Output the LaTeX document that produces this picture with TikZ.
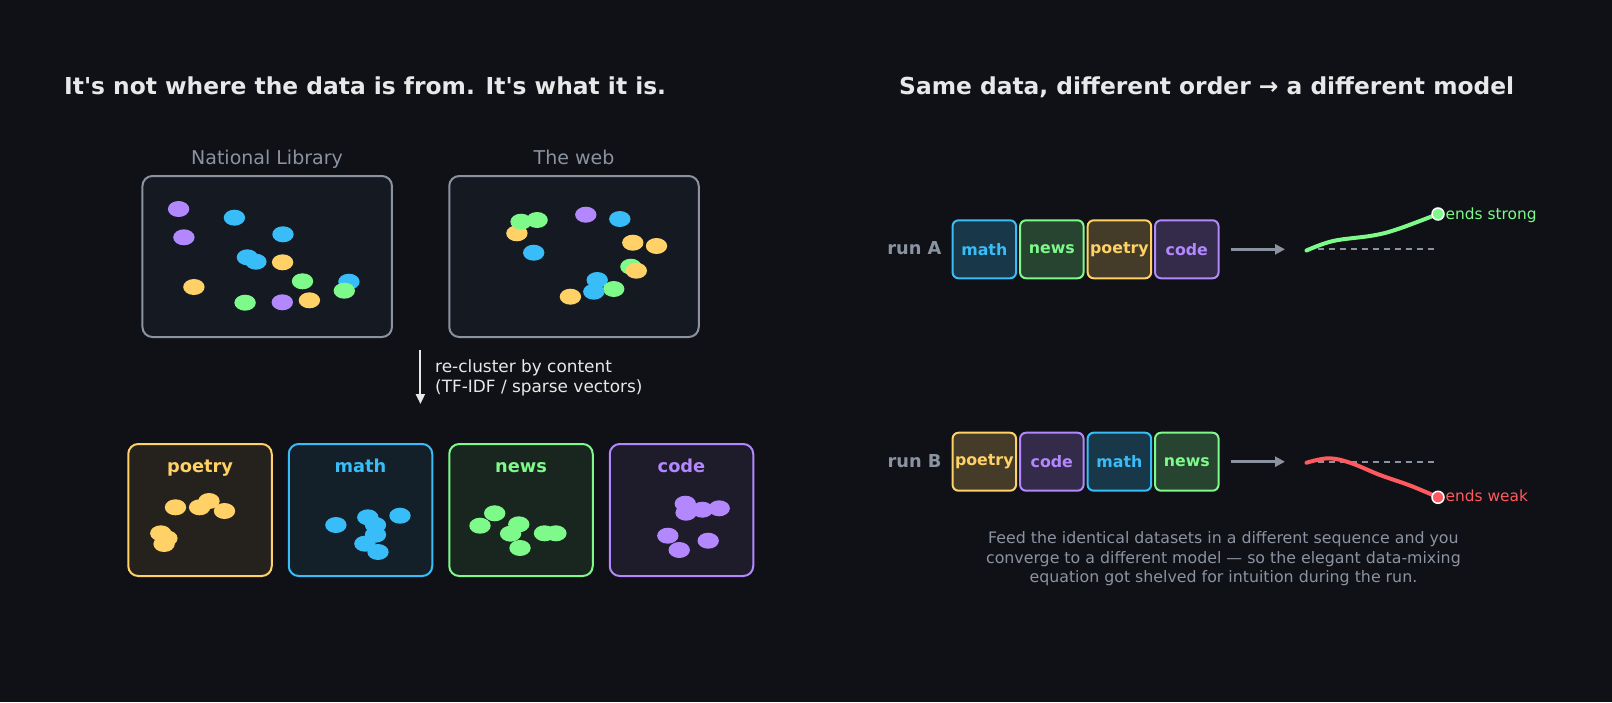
\documentclass[tikz,border=0pt]{standalone}
\usepackage{fontspec}
\setmainfont{DejaVu Sans}
\usetikzlibrary{arrows.meta}
\definecolor{bg}{HTML}{0F1116}
\definecolor{panel}{HTML}{151A22}
\definecolor{gr}{HTML}{8B93A1}
\definecolor{wt}{HTML}{E8E8E8}
\definecolor{cy}{HTML}{FFD166}
\definecolor{cb}{HTML}{38BDF8}
\definecolor{cg}{HTML}{7DFA8A}
\definecolor{cp}{HTML}{B388FF}
\definecolor{cr}{HTML}{FF5A5F}
\newcommand\fsz[1]{\fontsize{#1}{#1}\selectfont}
\newcommand\mydot[3]{\fill[#1] (#2,#3) ellipse [x radius=10.7pt, y radius=8pt];}
\tikzset{
  title/.style={inner sep=0pt, text=wt, font=\fsz{23.35}\bfseries},
  srclabel/.style={inner sep=0pt, text=gr, font=\fsz{19}},
  srcbox/.style={draw=gr, line width=2pt, fill=panel, rounded corners=10pt, minimum width=249.5pt, minimum height=161pt, inner sep=0pt},
  catbox/.style={draw=#1, line width=2pt, fill=#1!9!bg, rounded corners=10pt, minimum width=143.5pt, minimum height=132pt, inner sep=0pt},
  catlabel/.style={inner sep=0pt, text=#1, font=\fsz{17.8}\bfseries},
  runbox/.style={draw=#1, line width=2pt, fill=#1!22!bg, rounded corners=6pt, minimum width=63.5pt, minimum height=58pt, inner sep=0pt, text=#1, font=\fsz{15.8}\bfseries},
  runlabel/.style={inner sep=0pt, text=gr, font=\fsz{17.8}\bfseries},
  note/.style={inner sep=0pt, font=\fsz{16.9}, text=wt},
  endlabel/.style={inner sep=0pt, font=\fsz{15.4}, text=#1},
  caption/.style={inner sep=0pt, font=\fsz{15.8}, text=gr},
  enddot/.style={circle, fill=#1, draw=white, line width=1.5pt, minimum size=12pt, inner sep=0pt},
}
\begin{document}
\begin{tikzpicture}[x=1pt,y=-1pt]
\fill[bg] (0,0) rectangle (1612,702);
\useasboundingbox (0,0) rectangle (1612,702);

% titles
\node[title, anchor=base west] (t1) at (64,94) {It\textquotesingle s not where the data is from. It\textquotesingle s what it is.};
\node[title, anchor=base west] (t2) at (899,94) {Same data, different order → a different model};

% source boxes
\node[srclabel, anchor=base] (lnl) at (267,164) {National Library};
\node[srclabel, anchor=base] (lweb) at (574,164) {The web};
\node[srcbox] (nl) at (267.2,256.5) {};
\node[srcbox] (web) at (574,256.5) {};

% dots box 1
\mydot{cp}{178.6}{209}
\mydot{cb}{234.4}{217.7}
\mydot{cp}{183.9}{237.3}
\mydot{cb}{283}{234.3}
\mydot{cb}{247.4}{257.3}
\mydot{cb}{255.9}{261.7}
\mydot{cy}{282.6}{262.3}
\mydot{cy}{193.9}{287}
\mydot{cg}{302.5}{281.3}
\mydot{cb}{348.9}{281.7}
\mydot{cg}{344.3}{290.7}
\mydot{cg}{245.1}{302.7}
\mydot{cp}{282.3}{302.3}
\mydot{cy}{309.4}{300.3}

% dots box 2
\mydot{cy}{516.9}{233.3}
\mydot{cg}{521.1}{221.7}
\mydot{cg}{537.1}{220}
\mydot{cp}{585.8}{214.7}
\mydot{cb}{619.8}{219}
\mydot{cy}{632.8}{242.7}
\mydot{cy}{656.5}{246}
\mydot{cb}{533.7}{252.7}
\mydot{cg}{630.9}{266.7}
\mydot{cy}{636.3}{270.7}
\mydot{cb}{597.2}{280}
\mydot{cg}{613.7}{289}
\mydot{cb}{593.8}{291.7}
\mydot{cy}{570.4}{296.7}

% recluster arrow
\coordinate (ra1) at (420.4,350);
\coordinate (ra2) at (420.4,404);
\draw[wt, line width=2pt, -{Triangle[length=10pt,width=9pt]}] (ra1) -- (ra2);
\node[note, anchor=base west] (n1) at (435,372) {re-cluster by content};
\node[note, anchor=base west] (n2) at (435,392.5) {(TF-IDF / sparse vectors)};

% category boxes
\node[catbox=cy] (cpo) at (200,510) {};
\node[catbox=cb] (cma) at (360.5,510) {};
\node[catbox=cg] (cne) at (521,510) {};
\node[catbox=cp] (cco) at (681.5,510) {};
\node[catlabel=cy, anchor=base] (lpo) at (200,472) {poetry};
\node[catlabel=cb, anchor=base] (lma) at (360.5,472) {math};
\node[catlabel=cg, anchor=base] (lne) at (521,472) {news};
\node[catlabel=cp, anchor=base] (lco) at (681.5,472) {code};

% poetry dots
\mydot{cy}{175.5}{507.3}
\mydot{cy}{199.6}{507.3}
\mydot{cy}{209}{501}
\mydot{cy}{224.5}{511}
\mydot{cy}{160.8}{533.3}
\mydot{cy}{166.9}{538.3}
\mydot{cy}{164.1}{544}
% math dots
\mydot{cb}{335.9}{525}
\mydot{cb}{367.8}{517.3}
\mydot{cb}{375.5}{525}
\mydot{cb}{375.5}{534.7}
\mydot{cb}{364.9}{543.7}
\mydot{cb}{378}{552}
\mydot{cb}{400}{515.7}
% news dots
\mydot{cg}{480}{525.7}
\mydot{cg}{494.7}{513.3}
\mydot{cg}{518.8}{524.3}
\mydot{cg}{510.6}{533.7}
\mydot{cg}{520}{548}
\mydot{cg}{544.5}{533.3}
\mydot{cg}{555.9}{533.3}
% code dots
\mydot{cp}{685.3}{503.7}
\mydot{cp}{686.1}{512.7}
\mydot{cp}{702.4}{509.7}
\mydot{cp}{719.2}{508.3}
\mydot{cp}{667.8}{535.7}
\mydot{cp}{708.2}{540.7}
\mydot{cp}{679.2}{550}

% run A
\node[runlabel, anchor=base east] (rA) at (941.7,254.5) {run A};
\node[runbox=cb] (a1) at (984.3,249.3) {math};
\node[runbox=cg] (a2) at (1051.8,249.3) {news};
\node[runbox=cy] (a3) at (1119.4,249.3) {poetry};
\node[runbox=cp] (a4) at (1186.8,249.3) {code};
\coordinate (aa1) at (1230.5,249.3);
\coordinate (aa2) at (1285,249.3);
\draw[gr, line width=3pt, -{Triangle[length=10pt,width=10pt]}] (aa1) -- (aa2);
\coordinate (ab0) at (1306.5,249);
\coordinate (ab1) at (1438,249);
\draw[gr, line width=1.6pt, dash pattern=on 6.5pt off 4.5pt] (ab0) -- (ab1);
\draw[cg, line width=4pt, line cap=round] plot[smooth, tension=0.6] coordinates {(1306.5,250.5) (1333,241) (1373,235.5) (1398,229) (1438,214)};
\node[enddot=cg] (ea) at (1438,214) {};
\node[endlabel=cg, anchor=base west] (la) at (1445.5,219) {ends strong};

% run B
\node[runlabel, anchor=base east] (rB) at (941.7,467) {run B};
\node[runbox=cy] (b1) at (984.3,461.7) {poetry};
\node[runbox=cp] (b2) at (1051.8,461.7) {code};
\node[runbox=cb] (b3) at (1119.4,461.7) {math};
\node[runbox=cg] (b4) at (1186.8,461.7) {news};
\coordinate (ba1) at (1230.5,461.7);
\coordinate (ba2) at (1285,461.7);
\draw[gr, line width=3pt, -{Triangle[length=10pt,width=10pt]}] (ba1) -- (ba2);
\coordinate (bb0) at (1306.5,462);
\coordinate (bb1) at (1438,462);
\draw[gr, line width=1.6pt, dash pattern=on 6.5pt off 4.5pt] (bb0) -- (bb1);
\draw[cr, line width=4pt, line cap=round] plot[smooth, tension=0.6] coordinates {(1306.5,462.7) (1328.3,458.3) (1350,462.7) (1380,475) (1410,485.5) (1438,497.3)};
\node[enddot=cr] (eb) at (1438,497.3) {};
\node[endlabel=cr, anchor=base west] (lb) at (1445.5,501.5) {ends weak};

% caption
\node[caption, anchor=base] (c1) at (1223.4,543.5) {Feed the identical datasets in a different sequence and you};
\node[caption, anchor=base] (c2) at (1223.4,563) {converge to a different model — so the elegant data-mixing};
\node[caption, anchor=base] (c3) at (1223.4,582.5) {equation got shelved for intuition during the run.};
\end{tikzpicture}
\end{document}
